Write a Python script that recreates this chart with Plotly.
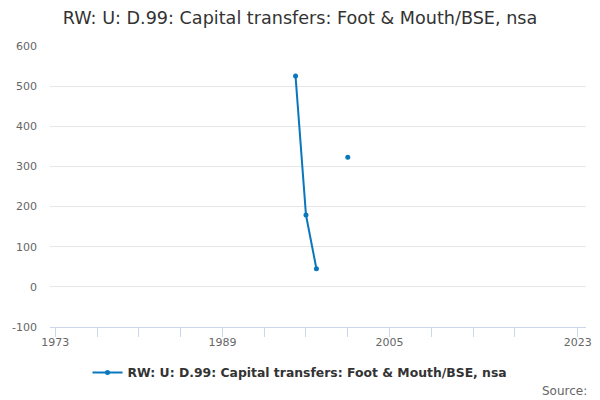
import plotly.graph_objects as go

years = [1996, 1997, 1998, 1999, 2000, 2001]
values = [525, 179, 45, None, None, 323]
tick_vals = [1973, 1977, 1981, 1985, 1989, 1993, 1997, 2001, 2005, 2009, 2013, 2017, 2023]
tick_text = ["1973", "", "", "", "1989", "", "", "", "2005", "", "", "", "2023"]
y_tick_vals = [-100, 0, 100, 200, 300, 400, 500, 600]
y_tick_text = ["-100", "0", "100", "200", "300", "400", "500", "600"]
series_name = "RW: U: D.99: Capital transfers: Foot & Mouth/BSE, nsa"

fig = go.Figure()
fig.add_trace(go.Scatter(
    x=years, y=values, mode="lines+markers", name=series_name,
    connectgaps=False, showlegend=True,
    line=dict(color="#0a77bd", width=2),
    marker=dict(color="#0a77bd", size=5),
))

fig.update_layout(
    width=600, height=400,
    margin=dict(l=50, r=14, t=46, b=73, autoexpand=False),
    paper_bgcolor="white", plot_bgcolor="white",
    font=dict(family="DejaVu Sans", color="#666666", size=11),
    title=dict(text=series_name, x=0.5, xanchor="center", xref="container",
               y=1 - 18 / 400, yanchor="middle", yref="container",
               font=dict(size=17.6, color="#333333", family="DejaVu Sans")),
    showlegend=True,
    legend=dict(orientation="h", x=0.5, xanchor="center", xref="container",
                y=1 - 373 / 400, yanchor="middle", yref="container",
                font=dict(size=12.4, color="#333333", family="DejaVu Sans", weight="bold"),
                itemwidth=30),
    xaxis=dict(range=[1972.5, 2023.8], tickmode="array", tickvals=tick_vals, ticktext=tick_text,
               showgrid=False, zeroline=False, showline=True, linecolor="#ccd6eb", linewidth=1,
               ticks="outside", ticklen=9, tickcolor="#ccd6eb", automargin=False,
               ticklabelstandoff=-4,
               tickfont=dict(size=11, color="#666666")),
    yaxis=dict(range=[-100, 600], tickmode="array", tickvals=y_tick_vals, ticktext=y_tick_text,
               showgrid=True, gridcolor="#e6e6e6", zeroline=False, showline=False,
               ticks="", automargin=False, ticklabelstandoff=12,
               tickfont=dict(size=11, color="#666666")),
    annotations=[dict(text="Source:", xref="paper", yref="paper", x=1.0056, y=-0.228,
                      xanchor="right", yanchor="middle", showarrow=False,
                      font=dict(size=12, color="#666666"))],
)

fig.write_html("out.html", config={"displayModeBar": False},
               post_script="document.body.style.margin='0';document.body.style.padding='0';")
